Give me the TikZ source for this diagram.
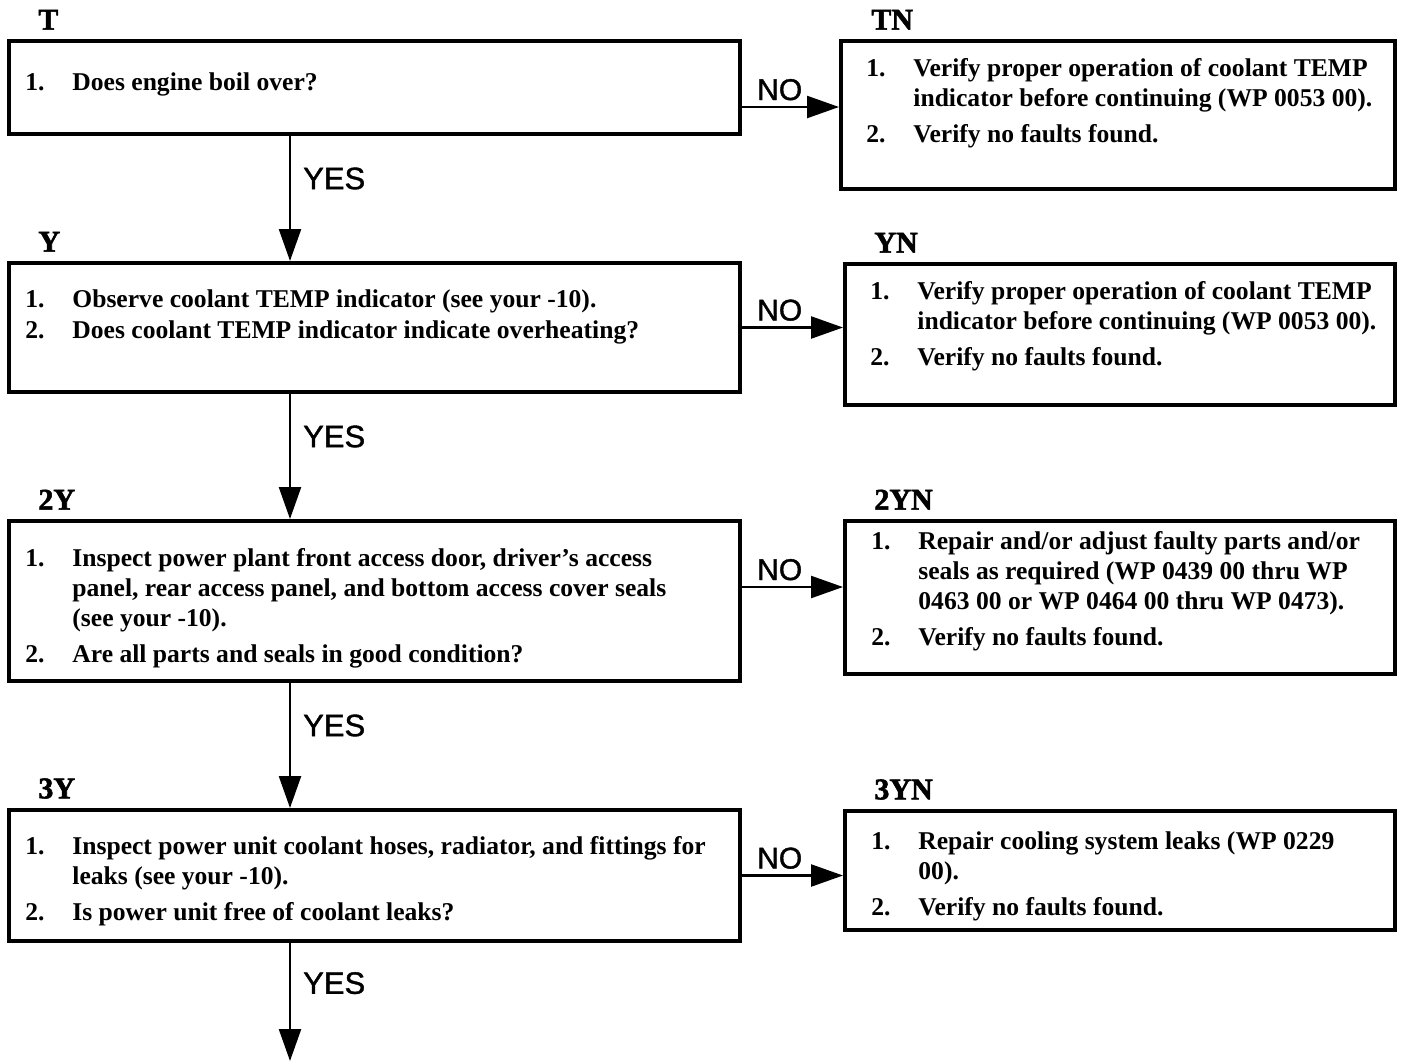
\documentclass[tikz,border=0pt]{standalone}
\usepackage{fontspec}
\setmainfont{Liberation Serif}
\newfontfamily\flowsans{Liberation Sans}[FakeBold=1.2]
\newfontfamily\tagserif{Liberation Serif}[BoldFeatures={FakeBold=1.8}]
\usepackage{tikz}
\usetikzlibrary{arrows.meta,positioning}
\newcommand{\steptext}[1]{\begin{tabular}[t]{@{}p{23.5pt}@{}l@{}}#1\end{tabular}}

\begin{document}
\begin{tikzpicture}[x=0.5pt, y=0.5pt, >={Triangle[length=16pt,width=11pt]},
    box/.style={draw, line width=2pt, anchor=north west, inner sep=0pt},
    tag/.style={inner sep=0pt, font=\tagserif\bfseries\fontsize{15}{15}\selectfont},
    body/.style={inner sep=0pt, anchor=base west, font=\bfseries\fontsize{12.8}{15}\selectfont},
    flow/.style={->, line width=1.2pt},
    no/.style={pos=0, anchor=base west, inner sep=0pt, xshift=7pt, yshift=3.5pt, font=\flowsans\fontsize{15}{15}\selectfont},
    yes/.style={pos=0.34, anchor=west, inner sep=0pt, xshift=6pt, font=\flowsans\fontsize{15.5}{15}\selectfont}]
  \useasboundingbox (0,0) rectangle (1403,-1061);

  \node[box, minimum width=365.5pt, minimum height=46.5pt] (T) at (7,-39) {};
  \node[box, minimum width=365.5pt, minimum height=64.5pt] (Y) at (7,-261) {};
  \node[box, minimum width=365.5pt, minimum height=80pt] (2Y) at (7,-519) {};
  \node[box, minimum width=365.5pt, minimum height=65.5pt] (3Y) at (7,-808) {};
  \node[box, minimum width=277pt, minimum height=74pt] (TN) at (839,-39) {};
  \node[box, minimum width=275pt, minimum height=70.5pt] (YN) at (843,-262) {};
  \node[box, minimum width=275pt, minimum height=76.5pt] (2YN) at (843,-519) {};
  \node[box, minimum width=275pt, minimum height=59.5pt] (3YN) at (843,-809) {};

  \node[tag, above right=4.5pt and 15.5pt of T.north west] (Ttag) {T};
  \node[tag, above right=4.5pt and 15.5pt of Y.north west] (Ytag) {Y};
  \node[tag, above right=4.5pt and 15.5pt of 2Y.north west] (2Ytag) {2Y};
  \node[tag, above right=4.5pt and 15.5pt of 3Y.north west] (3Ytag) {3Y};
  \node[tag, above right=4.5pt and 16pt of TN.north west] (TNtag) {TN};
  \node[tag, above right=4.5pt and 15.5pt of YN.north west] (YNtag) {YN};
  \node[tag, above right=4.5pt and 15.5pt of 2YN.north west] (2YNtag) {2YN};
  \node[tag, above right=4.5pt and 15.5pt of 3YN.north west] (3YNtag) {3YN};

  \node[body] (Ttext) at ([shift={(9pt,-25.5pt)}]T.north west) {\steptext{1. & Does engine boil over?}};
  \node[body] (Ytext) at ([shift={(9pt,-23pt)}]Y.north west) {\steptext{1. & Observe coolant TEMP indicator (see your -10).\\[0.5pt]
    2. & Does coolant TEMP indicator indicate overheating?}};
  \node[body] (2Ytext) at ([shift={(9pt,-23.5pt)}]2Y.north west) {\steptext{1. & Inspect power plant front access door, driver's access\\
    & panel, rear access panel, and bottom access cover seals\\
    & (see your -10).\\[3pt]
    2. & Are all parts and seals in good condition?}};
  \node[body] (3Ytext) at ([shift={(9pt,-23pt)}]3Y.north west) {\steptext{1. & Inspect power unit coolant hoses, radiator, and fittings for\\
    & leaks (see your -10).\\[3pt]
    2. & Is power unit free of coolant leaks?}};
  \node[body] (TNtext) at ([shift={(13.5pt,-18.5pt)}]TN.north west) {\steptext{1. & Verify proper operation of coolant TEMP\\
    & indicator before continuing (WP 0053 00).\\[3pt]
    2. & Verify no faults found.}};
  \node[body] (YNtext) at ([shift={(13.5pt,-18.5pt)}]YN.north west) {\steptext{1. & Verify proper operation of coolant TEMP\\
    & indicator before continuing (WP 0053 00).\\[3pt]
    2. & Verify no faults found.}};
  \node[body] (2YNtext) at ([shift={(14pt,-15pt)}]2YN.north west) {\steptext{1. & Repair and/or adjust faulty parts and/or\\
    & seals as required (WP 0439 00 thru WP\\
    & 0463 00 or WP 0464 00 thru WP 0473).\\[3pt]
    2. & Verify no faults found.}};
  \node[body] (3YNtext) at ([shift={(14pt,-20pt)}]3YN.north west) {\steptext{1. & Repair cooling system leaks (WP 0229\\
    & 00).\\[3pt]
    2. & Verify no faults found.}};

  \draw[flow] ([yshift=-9.75pt]T.east) -- node[no] {NO} ([yshift=-9.75pt]T.east -| TN.west);
  \draw[flow] (Y.east) -- node[no] {NO} (Y.east -| YN.west);
  \draw[flow] ([yshift=7pt]2Y.east) -- node[no] {NO} ([yshift=7pt]2Y.east -| 2YN.west);
  \draw[flow] (3Y.east) -- node[no] {NO} (3Y.east -| 3YN.west);

  \coordinate (spine) at (290,0);
  \coordinate (exit) at (290,-1061);
  \draw[flow] (T.south -| spine) -- node[yes] {YES} (Y.north -| spine);
  \draw[flow] (Y.south -| spine) -- node[yes] {YES} (2Y.north -| spine);
  \draw[flow] (2Y.south -| spine) -- node[yes] {YES} (3Y.north -| spine);
  \draw[flow] (3Y.south -| exit) -- node[yes] {YES} (exit);
\end{tikzpicture}
\end{document}
